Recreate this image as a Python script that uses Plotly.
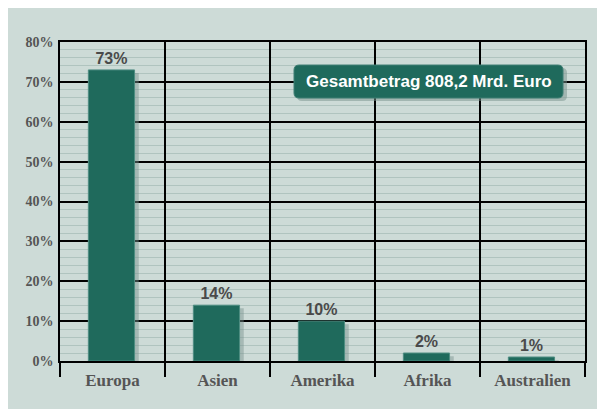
import plotly.graph_objects as go

categories = ["Europa", "Asien", "Amerika", "Afrika", "Australien"]
shares = [73, 14, 10, 2, 1]
value_labels = ["73%", "14%", "10%", "2%", "1%"]
y_ticks = [0, 10, 20, 30, 40, 50, 60, 70, 80]
y_tick_labels = ["0%", "10%", "20%", "30%", "40%", "50%", "60%", "70%", "80%"]
total_label = "Gesamtbetrag 808,2 Mrd. Euro"

W, H = 605, 409
OFF = 8  # page body margin
L, T = 60 - OFF, 42 - OFF
R = W - (585 - OFF)
B = H - (360.7 - OFF)

PANEL = "#cddbd7"
BAR = "#1f6a5c"
GREY = "#555555"

fig = go.Figure()

# shadow
fig.add_trace(go.Bar(
    x=categories, y=shares, base=[-0.8] * len(shares),
    width=0.44, offset=-0.19,
    marker=dict(color="rgba(120,145,140,0.45)", line=dict(width=0)),
    hoverinfo="skip", showlegend=False,
))
# bars
fig.add_trace(go.Bar(
    x=categories, y=shares,
    width=0.44, offset=-0.23,
    marker=dict(color=BAR, line=dict(color="#4e8d82", width=1)),
    text=value_labels, textposition="outside",
    textfont=dict(family="Liberation Sans, Arial", size=16, color="#4a4a4a", weight="bold"),
    cliponaxis=False, showlegend=False,
))

fig.update_layout(
    width=W, height=H,
    margin=dict(l=L, r=R, t=T, b=B, autoexpand=False),
    paper_bgcolor=PANEL,
    plot_bgcolor=PANEL,
    barmode="overlay",
    xaxis=dict(
        type="category", range=[-0.5, 4.5], automargin=False,
        tickson="boundaries", ticks="outside", ticklen=14, tickcolor="black", tickwidth=1.5,
        showgrid=True, gridcolor="black", gridwidth=1.5,
        showline=True, linecolor="black", linewidth=1.5, mirror=True,
        ticklabelstandoff=3,
        tickfont=dict(family="Liberation Serif, Times New Roman, serif", size=17, color=GREY, weight="bold"),
        zeroline=False,
    ),
    yaxis=dict(
        range=[0, 80], tickvals=y_ticks, ticktext=y_tick_labels, automargin=False,
        showgrid=True, gridcolor="black", gridwidth=1.5,
        minor=dict(dtick=2, showgrid=True, gridcolor="#b0c4bf", gridwidth=1),
        showline=True, linecolor="black", linewidth=1.5, mirror=True,
        ticks="", ticklabelstandoff=2,
        tickfont=dict(family="Liberation Serif, Times New Roman, serif", size=14, color=GREY, weight="bold"),
        zeroline=False,
    ),
)

pw = W - L - R
ph = H - T - B

def px(x):
    return (x - OFF - L) / pw

def py(y):
    return (H - B - (y - OFF)) / ph

def rounded(x0, y0, x1, y1, r):
    rx, ry = r / pw, r / ph
    a0, a1, b0, b1 = px(x0), px(x1), py(y1), py(y0)
    return (f"M {a0+rx},{b0} L {a1-rx},{b0} Q {a1},{b0} {a1},{b0+ry} "
            f"L {a1},{b1-ry} Q {a1},{b1} {a1-rx},{b1} L {a0+rx},{b1} "
            f"Q {a0},{b1} {a0},{b1-ry} L {a0},{b0+ry} Q {a0},{b0} {a0+rx},{b0} Z")

fig.add_shape(type="path", xref="paper", yref="paper",
              path=rounded(297, 68, 567, 101, 5),
              fillcolor="rgba(120,145,140,0.5)", line=dict(width=0))
fig.add_shape(type="path", xref="paper", yref="paper",
              path=rounded(294, 65, 563, 98, 5),
              fillcolor=BAR, line=dict(color="#3f7f74", width=1))
fig.add_annotation(xref="paper", yref="paper", x=px(428.5), y=py(81.5),
                   text=total_label, showarrow=False,
                   font=dict(family="Liberation Sans, Arial", size=17, color="white", weight="bold"),
                   xanchor="center", yanchor="middle")

fig.write_html("out.html")
